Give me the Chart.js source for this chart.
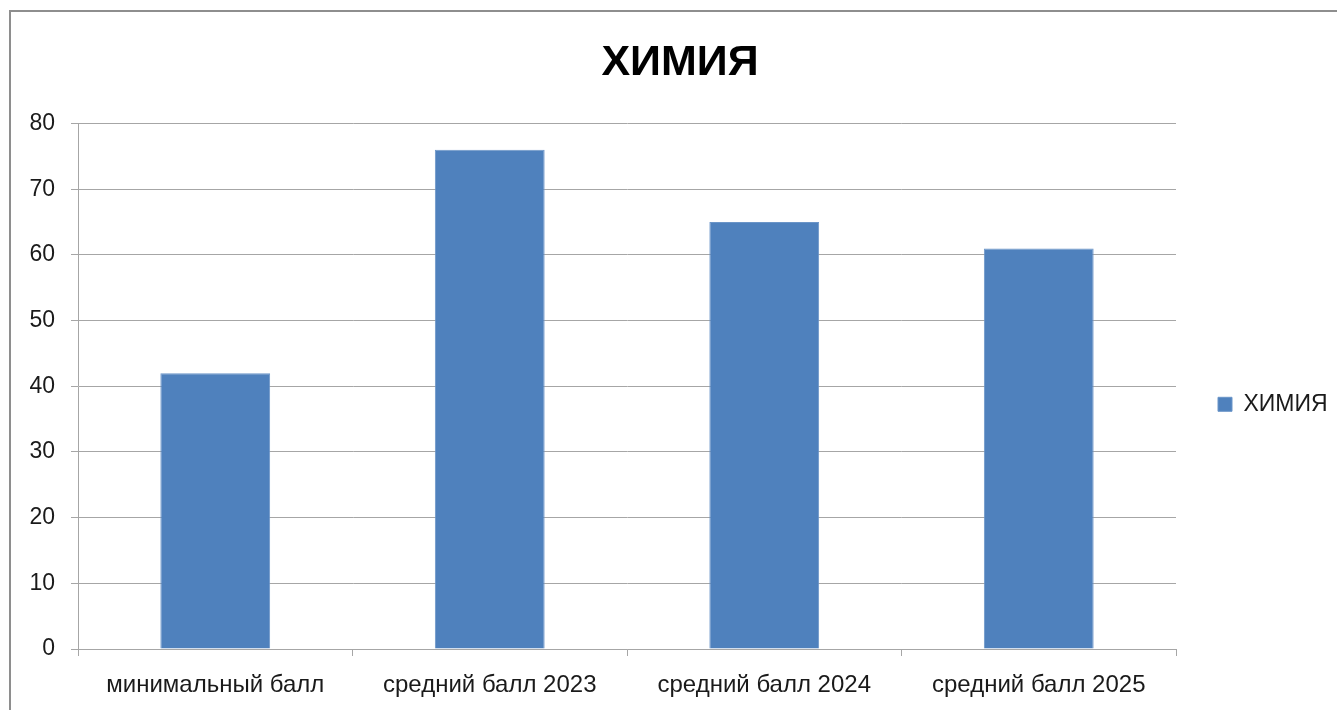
<!DOCTYPE html>
<html>
<head>
<meta charset="utf-8">
<script src="https://cdn.jsdelivr.net/npm/chart.js@4"></script>
<style>
  html, body { margin: 0; padding: 0; background: #fff; overflow: hidden; }
  #wrap { position: relative; width: 1337px; height: 710px; }
  #frame { position: absolute; left: 9px; top: 10px; width: 1400px; height: 800px; border: 2px solid #8e8e8e; box-sizing: border-box; }
  canvas { position: absolute; left: 0; top: 0; }
</style>
</head>
<body>
<div id="wrap">
  <div id="frame"></div>
  <canvas id="chart" width="1337" height="710"></canvas>
</div>
<script>
const categories = ['минимальный балл', 'средний балл 2023', 'средний балл 2024', 'средний балл 2025'];
const seriesName = 'ХИМИЯ';
const scores = [42, 76, 65, 61];
const yMin = 0;
const yMax = 80;
const yStep = 10;

const font = "'Liberation Sans', Arial, sans-serif";
const gridColor = '#a6a6a6';
const textColor = '#1a1a1a';

document.addEventListener("DOMContentLoaded", function() {
    const ctx = document.getElementById('chart').getContext('2d');
    new Chart(ctx, {
        type: 'bar',
        data: {
            labels: categories,
            datasets: [{
                label: seriesName,
                data: scores,
                backgroundColor: '#4f81bd',
                borderColor: '#6b95c8',
                borderWidth: 1,
                barPercentage: 0.4,
                categoryPercentage: 1
            }]
        },
        options: {
            responsive: false,
            animation: false,
            layout: { padding: { left: 23, right: 0, top: 0, bottom: 0 } },
            plugins: {
                title: {
                    display: true,
                    text: seriesName,
                    color: '#000',
                    font: { family: font, size: 43, weight: 'bold' },
                    padding: { top: 37, bottom: 35 }
                },
                legend: {
                    position: 'right',
                    align: 'center',
                    fullSize: false,
                    maxWidth: 161,
                    // empty title only pushes the entry down a bit, like the original
                    title: { display: true, text: ' ', font: { size: 10 }, padding: 12 },
                    labels: {
                        color: textColor,
                        font: { family: font, size: 23 },
                        boxWidth: 14,
                        boxHeight: 14,
                        padding: 42
                    }
                },
                tooltip: { enabled: false }
            },
            scales: {
                x: {
                    afterFit: function(scale) { scale.height = 61; },
                    grid: {
                        offset: true,
                        drawOnChartArea: false,
                        drawTicks: true,
                        tickLength: 7,
                        color: gridColor
                    },
                    border: { display: true, color: gridColor, width: 1 },
                    ticks: {
                        color: textColor,
                        font: { family: font, size: 24 },
                        padding: 15,
                        maxRotation: 0
                    }
                },
                y: {
                    min: yMin,
                    max: yMax,
                    afterFit: function(scale) { scale.width = 55; },
                    grid: { color: gridColor, tickLength: 7 },
                    border: { display: true, color: gridColor, width: 1 },
                    ticks: {
                        stepSize: yStep,
                        color: textColor,
                        font: { family: font, size: 23 },
                        padding: 16
                    }
                }
            }
        }
    });
});
</script>
</body>
</html>
